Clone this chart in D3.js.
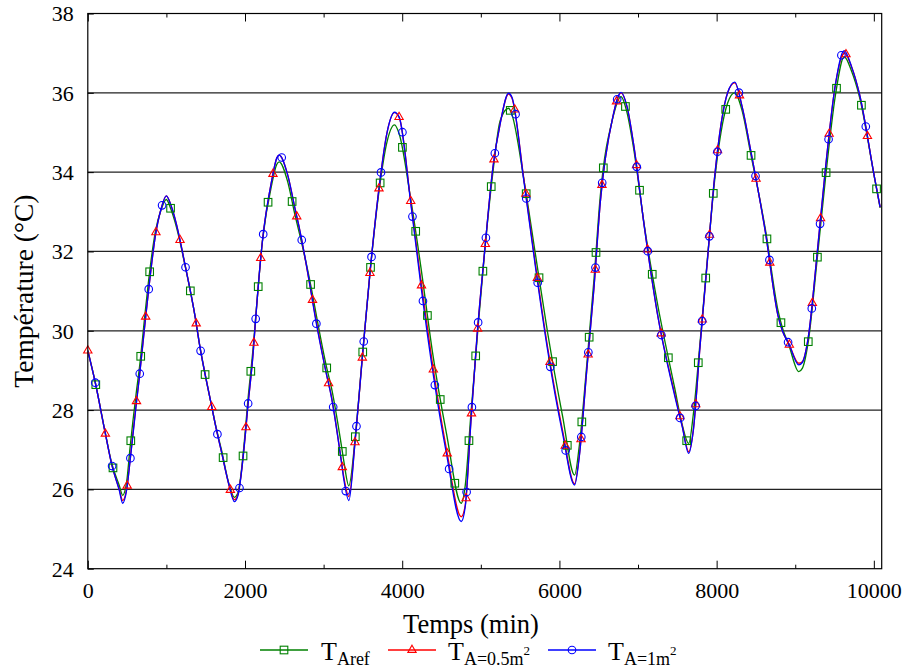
<!DOCTYPE html>
<html>
<head>
<meta charset="utf-8">
<script src="https://cdn.jsdelivr.net/npm/d3@7"></script>
<style>
  html, body { margin: 0; padding: 0; background: #fff; }
  svg { display: block; }
</style>
</head>
<body>
<svg id="chart" width="903" height="670"></svg>
<script>
// ---- data (time in minutes, temperature in °C) ----
const times = [
  0, 92, 223, 304, 400, 444, 495, 537, 614, 656,
  732, 770, 860, 932, 999, 1060, 1161, 1225, 1369, 1419,
  1565, 1628, 1700, 1794, 1865, 1908, 2005, 2030, 2107, 2128,
  2221, 2341, 2405, 2434, 2540, 2638, 2693, 2841, 2883, 3041,
  3096, 3223, 3258, 3321, 3402, 3495, 3592, 3707, 3805, 3902,
  3962, 4106, 4238, 4386, 4564, 4751, 4802, 4874, 4951, 5048,
  5154, 5247, 5353, 5396, 5549, 5693, 5850, 6040, 6193, 6253,
  6346, 6440, 6520, 6677, 6784, 6860, 6944, 7084, 7246, 7467,
  7560, 7645, 7704, 7789, 7882, 7975, 8141, 8230, 8324, 8430,
  8621, 8782, 8840, 8917, 9045, 9090, 9164, 9279, 9385, 9512,
  9623, 9716, 9817, 10009, 10080
];
const tAref = [
  29.5, 28.73, 27.42, 26.66, 26.1, 25.85, 26.2, 27.04, 28.4, 29.05,
  30.5, 31.2, 32.5, 33.05, 33.31, 33.05, 32.35, 31.76, 30.31, 29.68,
  28.2, 27.6, 27.0, 26.15, 25.8, 25.9, 27.5, 28.1, 29.65, 30.15,
  32.25, 33.7, 34.2, 34.26, 33.78, 32.9, 32.45, 31.1, 30.65, 29.05,
  28.6, 27.15, 26.7, 26.09, 27.3, 29.4, 31.5, 33.55, 34.75, 35.19,
  34.96, 33.35, 31.6, 29.45, 27.4, 25.65, 26.1, 27.9, 29.75, 31.98,
  34.0, 35.3, 35.61, 35.45, 33.8, 31.95, 29.95, 27.85, 26.36, 27.1,
  29.1, 31.3, 33.4, 35.35, 35.9, 35.5, 34.6, 32.6, 30.7, 28.55,
  27.65, 27.16, 27.9, 29.7, 31.8, 33.8, 35.75, 36.0, 35.55, 34.5,
  32.55, 30.5, 30.05, 29.65, 28.97, 29.05, 29.7, 31.8, 33.85, 35.95,
  36.91, 36.55, 35.9, 33.85, 33.1
];
const tA05 = [
  29.5, 28.72, 27.41, 26.63, 26.0, 25.72, 26.01, 26.72, 28.13, 28.83,
  30.27, 30.96, 32.4, 33.07, 33.4, 33.15, 32.4, 31.78, 30.31, 29.68,
  28.2, 27.58, 26.95, 26.13, 25.74, 25.86, 27.4, 27.96, 29.53, 30.1,
  32.25, 33.8, 34.36, 34.43, 33.95, 33.06, 32.57, 30.97, 30.5, 28.86,
  28.38, 26.76, 26.3, 25.82, 27.25, 29.38, 31.51, 33.63, 34.98, 35.5,
  35.38, 33.3, 31.25, 29.15, 27.0, 25.31, 25.6, 27.71, 29.85, 31.99,
  34.12, 35.23, 35.97, 35.87, 33.8, 31.7, 29.58, 27.48, 26.14, 26.85,
  28.97, 31.1, 33.24, 35.37, 36.0, 35.65, 34.7, 32.57, 30.44, 28.4,
  27.62, 26.95, 27.5, 29.62, 31.76, 33.89, 36.01, 36.25, 35.65, 34.58,
  32.48, 30.37, 29.98, 29.68, 29.18, 29.22, 29.81, 31.95, 34.1, 36.22,
  37.0, 36.66, 35.97, 33.86, 33.12
];
const tA1 = [
  29.5, 28.72, 27.41, 26.63, 25.98, 25.65, 26.0, 26.7, 28.1, 28.83,
  30.27, 30.96, 32.4, 33.07, 33.4, 33.15, 32.4, 31.78, 30.31, 29.68,
  28.2, 27.58, 26.95, 26.13, 25.69, 25.83, 27.4, 27.96, 29.53, 30.1,
  32.25, 33.8, 34.36, 34.43, 33.95, 33.06, 32.57, 30.97, 30.46, 28.86,
  28.36, 26.74, 26.24, 25.72, 27.25, 29.38, 31.51, 33.63, 34.98, 35.51,
  35.38, 33.26, 31.14, 29.01, 26.89, 25.19, 25.57, 27.71, 29.85, 31.99,
  34.12, 35.23, 35.99, 35.89, 33.76, 31.64, 29.51, 27.41, 26.11, 26.83,
  28.97, 31.1, 33.24, 35.37, 36.01, 35.65, 34.7, 32.57, 30.44, 28.36,
  27.6, 26.91, 27.5, 29.62, 31.76, 33.89, 36.01, 36.27, 35.65, 34.58,
  32.48, 30.37, 29.98, 29.68, 29.14, 29.2, 29.81, 31.95, 34.1, 36.22,
  37.06, 36.66, 35.97, 33.86, 33.12
];
const xTickValues = [0, 2000, 4000, 6000, 8000, 10000];
const xMinorValues = [1000, 3000, 5000, 7000, 9000];
const yTickValues = [24, 26, 28, 30, 32, 34, 36, 38];
const xTitle = "Temps (min)";
const yTitle = "Température (°C)";

const FONT = "'Liberation Serif', 'Times New Roman', serif";

// ---- layout ----
const svg = d3.select("#chart");
const L = 87.8, R = 881.7, T = 13.5, B = 568.7;
const x = d3.scaleLinear().domain([0, 10100]).range([L, R]);
const y = d3.scaleLinear().domain([24, 38]).range([B, T]);

// grid lines
svg.append("g").selectAll("line").data(yTickValues.filter(v => v > 24 && v < 38)).join("line")
  .attr("x1", L).attr("x2", R).attr("y1", d => y(d)).attr("y2", d => y(d))
  .attr("stroke", "#222").attr("stroke-width", 1.25);

// axes with inward ticks
const axB = d3.axisBottom(x).tickValues(xTickValues).tickSize(-8).tickFormat(d3.format("d"));
const axBm = d3.axisBottom(x).tickValues(xMinorValues).tickSize(-4).tickFormat("");
const axT = d3.axisTop(x).tickValues(xTickValues).tickSize(-8).tickFormat("");
const axTm = d3.axisTop(x).tickValues(xMinorValues).tickSize(-4).tickFormat("");
const axL = d3.axisLeft(y).tickValues(yTickValues).tickSize(-6);

function styleAxis(g) {
  g.attr("font-family", null).attr("font-size", null);
  g.select(".domain").remove();
  g.selectAll(".tick line").attr("stroke", "#000").attr("stroke-width", 1);
  g.selectAll("text").style("font-family", FONT).style("font-size", "22px").attr("fill", "#000");
}
svg.append("g").attr("transform", `translate(0,${B})`).call(axB).call(styleAxis)
  .selectAll("text").attr("y", 29).attr("dy", 0);
svg.append("g").attr("transform", `translate(0,${B})`).call(axBm).call(styleAxis);
svg.append("g").attr("transform", `translate(0,${T})`).call(axT).call(styleAxis);
svg.append("g").attr("transform", `translate(0,${T})`).call(axTm).call(styleAxis);
svg.append("g").attr("transform", `translate(${L},0)`).call(axL).call(styleAxis)
  .selectAll("text").attr("x", -14).attr("dy", "0.34em");

// clip
svg.append("clipPath").attr("id", "clip").append("rect")
  .attr("x", L).attr("y", T).attr("width", R - L).attr("height", B - T);

const series = [
  { name: "Aref", values: tAref, color: "#008000", symbol: "square", offset: 35 },
  { name: "A05", values: tA05, color: "#ff0000", symbol: "triangle", offset: 0 },
  { name: "A1", values: tA1, color: "#0000ff", symbol: "circle", offset: 33 }
];

const line = d3.line().x(d => x(d.t)).y(d => y(d.v)).curve(d3.curveMonotoneX);
const plot = svg.append("g").attr("clip-path", "url(#clip)");

function drawSymbol(g, type, color) {
  if (type === "square") {
    g.append("rect").attr("x", -3.8).attr("y", -3.8).attr("width", 7.6).attr("height", 7.6)
      .attr("fill", "none").attr("stroke", color).attr("stroke-width", 1.1);
  } else if (type === "triangle") {
    g.append("path").attr("d", d3.symbol().type(d3.symbolTriangle).size(30)())
      .attr("fill", "none").attr("stroke", color).attr("stroke-width", 1.1);
  } else {
    g.append("circle").attr("r", 3.8).attr("fill", "none").attr("stroke", color).attr("stroke-width", 1.1);
  }
}

const paths = series.map(s => {
  const data = times.map((t, i) => ({ t, v: s.values[i] }));
  return plot.append("path").datum(data).attr("d", line)
    .attr("fill", "none").attr("stroke", s.color).attr("stroke-width", 1.35);
});

// markers spaced along the curve
const spacing = 85;
series.forEach((s, k) => {
  const node = paths[k].node();
  const total = node.getTotalLength();
  const pts = [];
  for (let len = s.offset; len <= total; len += spacing) {
    const p = node.getPointAtLength(len);
    pts.push({ t: x.invert(p.x), v: y.invert(p.y) });
  }
  const g = svg.append("g");
  pts.forEach(d => {
    const m = g.append("g").attr("transform", `translate(${x(d.t)},${y(d.v)})`);
    drawSymbol(m, s.symbol, s.color);
  });
});

// frame
svg.append("rect").attr("x", L).attr("y", T).attr("width", R - L).attr("height", B - T)
  .attr("fill", "none").attr("stroke", "#000").attr("stroke-width", 1.2);

// axis titles
svg.append("text").attr("x", 471).attr("y", 633).attr("text-anchor", "middle")
  .style("font-family", FONT).style("font-size", "26.5px").attr("fill", "#000").text(xTitle);
svg.append("text").attr("transform", `translate(33,${(T + B) / 2}) rotate(-90)`)
  .attr("text-anchor", "middle").style("font-family", FONT).style("font-size", "27.5px")
  .attr("fill", "#000").text(yTitle);

// legend
const legend = [
  { color: "#008000", symbol: "square", x0: 260, tx: 321, sub: "Aref", sup: null },
  { color: "#ff0000", symbol: "triangle", x0: 388, tx: 448, sub: "A=0.5m", sup: "2" },
  { color: "#0000ff", symbol: "circle", x0: 548, tx: 608, sub: "A=1m", sup: "2" }
];
const ly = 650;
legend.forEach(d => {
  const g = svg.append("g");
  g.append("line").attr("x1", d.x0).attr("x2", d.x0 + 48).attr("y1", ly).attr("y2", ly)
    .attr("stroke", d.color).attr("stroke-width", 1.3);
  const m = g.append("g").attr("transform", `translate(${d.x0 + 24},${ly})`);
  drawSymbol(m, d.symbol, d.color);
  const t = g.append("text").attr("x", d.tx).attr("y", 660)
    .style("font-family", FONT).style("font-size", "26px").attr("fill", "#000");
  t.append("tspan").text("T");
  t.append("tspan").attr("dy", 5).style("font-size", "18px").text(d.sub);
  if (d.sup) t.append("tspan").attr("dy", -10).style("font-size", "13px").text(d.sup);
});
</script>
</body>
</html>
